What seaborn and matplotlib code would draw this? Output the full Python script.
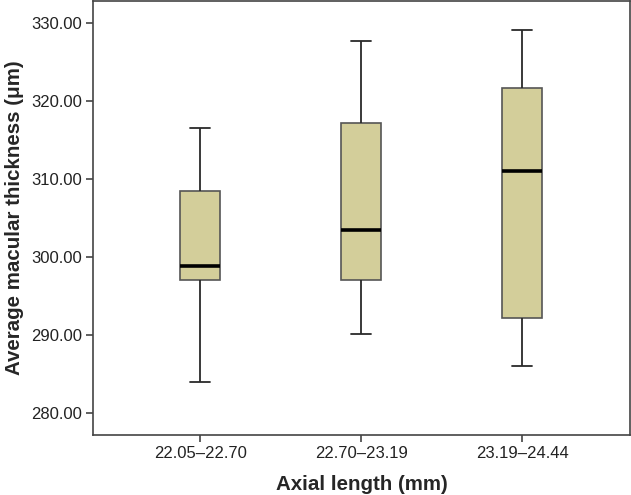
import matplotlib
matplotlib.use("Agg")
import matplotlib.pyplot as plt
import seaborn as sns
import pandas as pd

categories = ["22.05\u201322.70", "22.70\u201323.19", "23.19\u201324.44"]
# five-number summaries: min, Q1, median, Q3, max
group1 = [284.0, 297.1, 298.9, 308.4, 316.5]
group2 = [290.2, 297.0, 303.4, 317.1, 327.7]
group3 = [286.0, 292.2, 311.0, 321.6, 329.1]
yticks = [280, 290, 300, 310, 320, 330]

rows = []
for cat, vals in zip(categories, [group1, group2, group3]):
    for v in vals:
        rows.append({"Axial length (mm)": cat, "thickness": v})
df = pd.DataFrame(rows)

sns.set_theme(style="white")
plt.rcParams["font.family"] = ["Liberation Sans", "DejaVu Sans"]

fig = plt.figure(figsize=(6.31, 4.95), dpi=100)
ax = fig.add_axes([0.1474, 0.1212, 0.851, 0.877])

sns.boxplot(data=df, x="Axial length (mm)", y="thickness", order=categories,
            whis=float("inf"), width=0.25, color="#d3ce9a", saturation=1,
            linewidth=1.2, linecolor="#3a3a3a",
            boxprops=dict(facecolor="#d3ce9a", edgecolor="#555555"),
            whiskerprops=dict(color="#2a2a2a", linewidth=1.3),
            capprops=dict(color="#2a2a2a", linewidth=1.3),
            medianprops=dict(color="black", linewidth=2.6),
            capwidths=0.125, ax=ax)

ax.set_xlim(-0.665, 2.67)
ax.set_ylim(277.2, 332.8)
ax.set_yticks(yticks)
ax.set_yticklabels([f"{t:.2f}" for t in yticks])

for s in ax.spines.values():
    s.set_visible(True)
    s.set_color("#444444")
    s.set_linewidth(1.2)

ax.tick_params(axis="both", which="both", direction="out", length=5, width=1.2,
               color="#444444", labelsize=12, labelcolor="#222222",
               left=True, bottom=True, top=False, right=False, pad=3)

ax.set_xlabel("Axial length (mm)", fontsize=14.8, fontweight="bold", labelpad=10)
ax.set_ylabel("Average macular thickness (\u03bcm)", fontsize=14.8, fontweight="bold", labelpad=5)

fig.savefig("out.png", dpi=100)
